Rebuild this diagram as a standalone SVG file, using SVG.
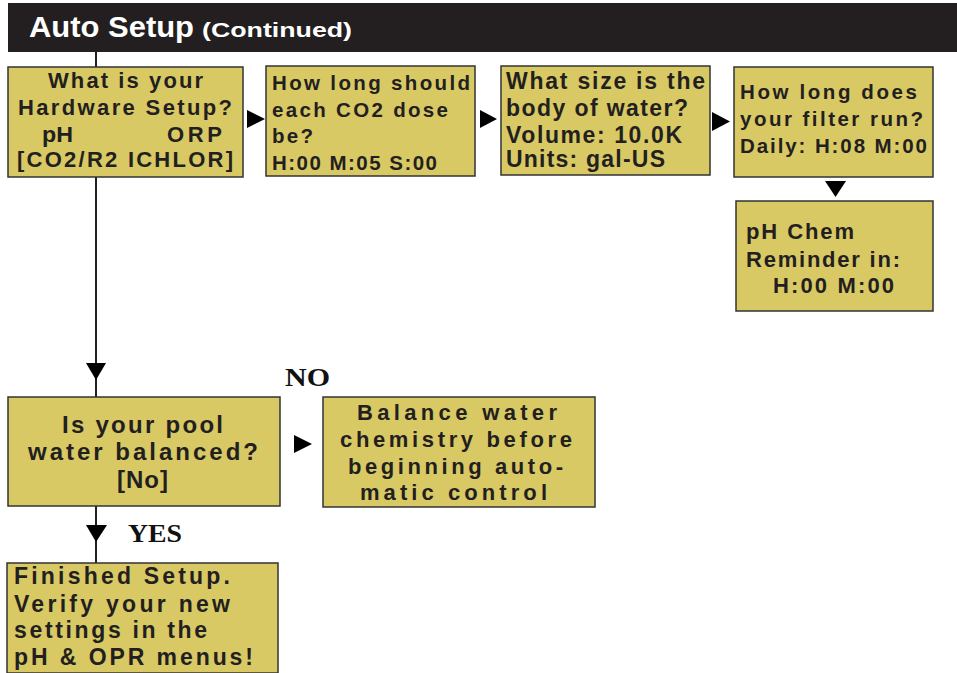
<svg xmlns="http://www.w3.org/2000/svg" width="957" height="673" viewBox="0 0 957 673">
<style>
.box{fill:#d8c964;stroke:#333;stroke-width:1.5}
.t{font-family:"Liberation Sans",Arial,sans-serif;font-weight:bold;fill:#231f20;font-size:22px}
.s{font-size:20.5px}
.m{font-size:23px}
.l{font-size:24px}
.c{text-anchor:middle}
.lbl{font-family:"Liberation Serif","Times New Roman",serif;font-weight:bold;fill:#111;font-size:26px}
.ln{stroke:#231f20;stroke-width:2;fill:none}
.ah{fill:#000}
</style>
<rect width="957" height="673" fill="#fff"/>
<g id="header">
<rect x="8" y="3" width="949" height="49" fill="#231f20"/>
<text x="29" y="37" font-family="Liberation Sans,Arial,sans-serif" font-weight="bold" font-size="30" fill="#fff" textLength="165" lengthAdjust="spacingAndGlyphs">Auto Setup</text>
<text x="202" y="37" font-family="Liberation Sans,Arial,sans-serif" font-weight="bold" font-size="21" fill="#fff" textLength="150" lengthAdjust="spacingAndGlyphs">(Continued)</text>
</g>
<g id="connectors">
<line class="ln" x1="96" y1="52" x2="96" y2="67"/>
<line class="ln" x1="96" y1="177" x2="96" y2="397"/>
<line class="ln" x1="96" y1="506" x2="96" y2="563"/>
<polygon class="ah" points="86,363 106,363 96,380"/>
<polygon class="ah" points="86,525 107,525 96,542"/>
<polygon class="ah" points="247,110 265,119 247,128"/>
<polygon class="ah" points="480,110 497,119 480,128"/>
<polygon class="ah" points="712,112 730,121.5 712,131"/>
<polygon class="ah" points="825,181 846,181 835.5,197"/>
<polygon class="ah" points="294,435 312,444 294,453"/>
<text class="lbl" x="285" y="386" textLength="45" lengthAdjust="spacingAndGlyphs">NO</text>
<text class="lbl" x="128" y="542" textLength="54" lengthAdjust="spacingAndGlyphs">YES</text>
</g>
<g id="hardware">
<rect class="box" x="8" y="67" width="235" height="110"/>
<text class="t c" x="125.5" y="88" textLength="155" lengthAdjust="spacing">What is your</text>
<text class="t c" x="125" y="115" textLength="214" lengthAdjust="spacing">Hardware Setup?</text>
<text class="t" x="42" y="142" textLength="31" lengthAdjust="spacingAndGlyphs">pH</text>
<text class="t" x="167" y="142" textLength="55" lengthAdjust="spacing">ORP</text>
<text class="t c" x="125" y="167" textLength="216" lengthAdjust="spacing">[CO2/R2 ICHLOR]</text>
</g>
<g id="dose">
<rect class="box" x="266" y="66" width="209" height="110"/>
<text class="t s" x="272" y="90" textLength="198" lengthAdjust="spacing">How long should</text>
<text class="t s" x="272" y="117" textLength="176" lengthAdjust="spacing">each CO2 dose</text>
<text class="t s" x="272" y="143" textLength="41" lengthAdjust="spacing">be?</text>
<text class="t s" x="272" y="170" textLength="165" lengthAdjust="spacing">H:00 M:05 S:00</text>
</g>
<g id="size">
<rect class="box" x="501" y="66" width="209" height="109"/>
<text class="t m" x="506" y="89" textLength="199" lengthAdjust="spacing">What size is the</text>
<text class="t m" x="506" y="116" textLength="182" lengthAdjust="spacing">body of water?</text>
<text class="t m" x="506" y="143" textLength="176" lengthAdjust="spacing">Volume: 10.0K</text>
<text class="t m" x="506" y="167" textLength="159" lengthAdjust="spacing">Units: gal-US</text>
</g>
<g id="filter">
<rect class="box" x="734" y="67" width="199" height="110"/>
<text class="t s" x="740" y="99" textLength="177" lengthAdjust="spacing">How long does</text>
<text class="t s" x="740" y="126" textLength="183" lengthAdjust="spacing">your filter run?</text>
<text class="t s" x="740" y="153" textLength="187" lengthAdjust="spacing">Daily: H:08  M:00</text>
</g>
<g id="reminder">
<rect class="box" x="736" y="201" width="197" height="110"/>
<text class="t" x="746" y="239" textLength="108" lengthAdjust="spacing">pH Chem</text>
<text class="t" x="746" y="267" textLength="154" lengthAdjust="spacing">Reminder in:</text>
<text class="t" x="773" y="293" textLength="121" lengthAdjust="spacing">H:00 M:00</text>
</g>
<g id="balanced">
<rect class="box" x="8" y="397" width="272" height="109"/>
<text class="t l c" x="142.5" y="433" textLength="161" lengthAdjust="spacing">Is your pool</text>
<text class="t l c" x="143" y="460" textLength="230" lengthAdjust="spacing">water balanced?</text>
<text class="t l c" x="142.5" y="488" textLength="51" lengthAdjust="spacing">[No]</text>
</g>
<g id="balance-water">
<rect class="box" x="323" y="397" width="272" height="110"/>
<text class="t c" x="457" y="420" textLength="200" lengthAdjust="spacing">Balance water</text>
<text class="t c" x="456" y="447" textLength="232" lengthAdjust="spacing">chemistry before</text>
<text class="t c" x="455.5" y="474" textLength="215" lengthAdjust="spacing">beginning auto-</text>
<text class="t c" x="453.5" y="500" textLength="187" lengthAdjust="spacing">matic control</text>
</g>
<g id="finished">
<rect class="box" x="7" y="563" width="271" height="110"/>
<text class="t m" x="14" y="584" textLength="216" lengthAdjust="spacing">Finished Setup.</text>
<text class="t m" x="14" y="612" textLength="216" lengthAdjust="spacing">Verify your new</text>
<text class="t m" x="14" y="638" textLength="193" lengthAdjust="spacing">settings in the</text>
<text class="t m" x="14" y="665" textLength="239" lengthAdjust="spacing">pH &amp; OPR menus!</text>
</g>
</svg>
